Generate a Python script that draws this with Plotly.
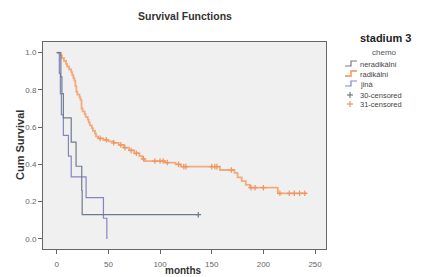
import plotly.graph_objects as go

# ---- data ----
ner_t = [0, 4, 5, 6.4, 14, 18.7, 24.2, 24.6, 137]
ner_s = [1.0, 0.87, 0.78, 0.65, 0.52, 0.39, 0.26, 0.13, 0.13]
ner_cens_t = [137]
ner_cens_s = [0.13]

jin_t = [0, 2.5, 3.5, 4.5, 6.4, 11.3, 14, 28.4, 45.2, 48.5]
jin_s = [1.0, 0.889, 0.778, 0.667, 0.556, 0.444, 0.333, 0.222, 0.111, 0.0]

rad_t = [0, 3, 5, 7, 9, 10, 12, 14, 15, 16, 17, 18, 19, 20, 22, 23, 24, 25, 27, 28,
         30, 31, 32, 34, 35, 37, 38, 40, 45, 50, 55, 60, 65, 70, 75, 80, 83, 85,
         105, 115, 120, 158, 172, 175, 179, 183, 187, 214, 242]
rad_s = [1.0, 0.985, 0.97, 0.955, 0.94, 0.925, 0.91, 0.895, 0.88, 0.865, 0.85, 0.82,
         0.79, 0.775, 0.76, 0.745, 0.70, 0.685, 0.67, 0.655, 0.64, 0.625, 0.61, 0.595,
         0.58, 0.565, 0.55, 0.54, 0.532, 0.524, 0.516, 0.505, 0.49, 0.475, 0.46, 0.445,
         0.43, 0.418, 0.41, 0.40, 0.388, 0.37, 0.355, 0.33, 0.31, 0.29, 0.275, 0.245, 0.245]
rad_cens_t = [42, 48, 55, 62, 66, 72, 77, 84, 95, 100, 103, 107, 118, 123, 125,
              150, 153, 155, 169, 188, 192, 200, 216, 225, 230, 235, 240]

x_ticks = [0, 50, 100, 150, 200, 250]
y_ticks = [0.0, 0.2, 0.4, 0.6, 0.8, 1.0]
y_tick_labels = ["0.0", "0.2", "0.4", "0.6", "0.8", "1.0"]

legend_labels = ["neradikální", "radikální", "jiná", "30-censored", "31-censored"]

C_NER = "#6e7c8c"
C_RAD = "#f4aa7a"
C_RADM = "#ef9660"
C_JIN = "#8585c0"


def step_val(ts, ss, t):
    v = ss[0]
    for ti, si in zip(ts, ss):
        if ti <= t:
            v = si
    return v


rad_cens_s = [step_val(rad_t, rad_s, t) for t in rad_cens_t]

fig = go.Figure()
fig.add_trace(go.Scatter(x=rad_t, y=rad_s, mode="lines", line=dict(color=C_RAD, width=1.8, shape="hv"),
                         showlegend=False))
fig.add_trace(go.Scatter(x=jin_t, y=jin_s, mode="lines", line=dict(color=C_JIN, width=1.2, shape="hv"),
                         showlegend=False))
fig.add_trace(go.Scatter(x=ner_t, y=ner_s, mode="lines", line=dict(color=C_NER, width=1.2, shape="hv"),
                         showlegend=False))
fig.add_trace(go.Scatter(x=rad_cens_t, y=rad_cens_s, mode="markers",
                         marker=dict(symbol="cross-thin", size=4, line=dict(color=C_RADM, width=1.2)),
                         showlegend=False))
fig.add_trace(go.Scatter(x=ner_cens_t, y=ner_cens_s, mode="markers",
                         marker=dict(symbol="cross-thin", size=4, line=dict(color=C_NER, width=1.2)),
                         showlegend=False))

L, R, T, B = 43, 108, 42, 28
W, H = 434, 277
pw, ph = W - L - R, H - T - B


def px(x):
    return (x - L) / pw


def py(y):
    return (H - B - y) / ph


annotations = [
    dict(text="<b>stadium 3</b>", x=px(385), y=py(38), xref="paper", yref="paper",
         showarrow=False, font=dict(size=11, color="#222"), xanchor="center", yanchor="middle"),
    dict(text="chemo", x=px(384), y=py(52), xref="paper", yref="paper",
         showarrow=False, font=dict(size=8, color="#555"), xanchor="center", yanchor="middle"),
    dict(text="<b>Survival Functions</b>", x=0.5, y=py(16), xref="paper", yref="paper",
         showarrow=False, font=dict(size=10.5, color="#333"), xanchor="center", yanchor="middle"),
    dict(text="<b>months</b>", x=px(183), y=py(270.5), xref="paper", yref="paper",
         showarrow=False, font=dict(size=10, color="#333"), xanchor="center", yanchor="middle"),
    dict(text="<b>Cum Survival</b>", x=px(20), y=py(145), xref="paper", yref="paper",
         showarrow=False, font=dict(size=11, color="#333"), xanchor="center", yanchor="middle",
         textangle=-90),
]
shapes = []
entry_y = [64, 74, 84, 95, 104]
glyph_cols = [C_NER, C_RAD, C_JIN, C_NER, C_RADM]
for i, (lab, yy) in enumerate(zip(legend_labels, entry_y)):
    annotations.append(dict(text=lab, x=px(358), y=py(yy), xref="paper", yref="paper",
                            showarrow=False, font=dict(size=7.5, color="#444"),
                            xanchor="left", yanchor="middle"))
    if i < 3:
        x0, x1, x2 = px(345), px(351), px(357)
        y0, y1 = py(yy + 2), py(yy - 3)
        shapes.append(dict(type="path", xref="paper", yref="paper",
                           path=f"M {x0},{y0} L {x1},{y0} L {x1},{y1} L {x2},{y1}",
                           line=dict(color=glyph_cols[i], width=1.2 if i != 1 else 1.8)))
    else:
        xc = px(350)
        shapes.append(dict(type="line", xref="paper", yref="paper", x0=px(347), x1=px(353),
                           y0=py(yy), y1=py(yy), line=dict(color=glyph_cols[i], width=1.2)))
        shapes.append(dict(type="line", xref="paper", yref="paper", x0=xc, x1=xc,
                           y0=py(yy - 3), y1=py(yy + 3), line=dict(color=glyph_cols[i], width=1.2)))

fig.update_layout(
    width=W, height=H,
    margin=dict(l=L, r=R, t=T, b=B),
    paper_bgcolor="white",
    plot_bgcolor="#f0f0f0",
    font=dict(family="Liberation Sans, Arial, sans-serif", color="#555"),
    showlegend=False,
    annotations=annotations,
    shapes=shapes,
)
fig.update_xaxes(range=[-13.3, 260.6], tickvals=x_ticks, ticks="outside", ticklen=4,
                 tickcolor="#666", tickfont=dict(size=8, color="#666"), ticklabelstandoff=3,
                 showline=True, linecolor="#666", linewidth=1, mirror=True, automargin=False,
                 showgrid=False, zeroline=False)
fig.update_yaxes(range=[-0.054, 1.057], tickvals=y_ticks, ticktext=y_tick_labels, ticks="outside",
                 ticklen=4, tickcolor="#666", tickfont=dict(size=8, color="#666"), automargin=False,
                 showline=True, linecolor="#666", linewidth=1, mirror=True,
                 showgrid=False, zeroline=False)

fig.write_html("out.html")
